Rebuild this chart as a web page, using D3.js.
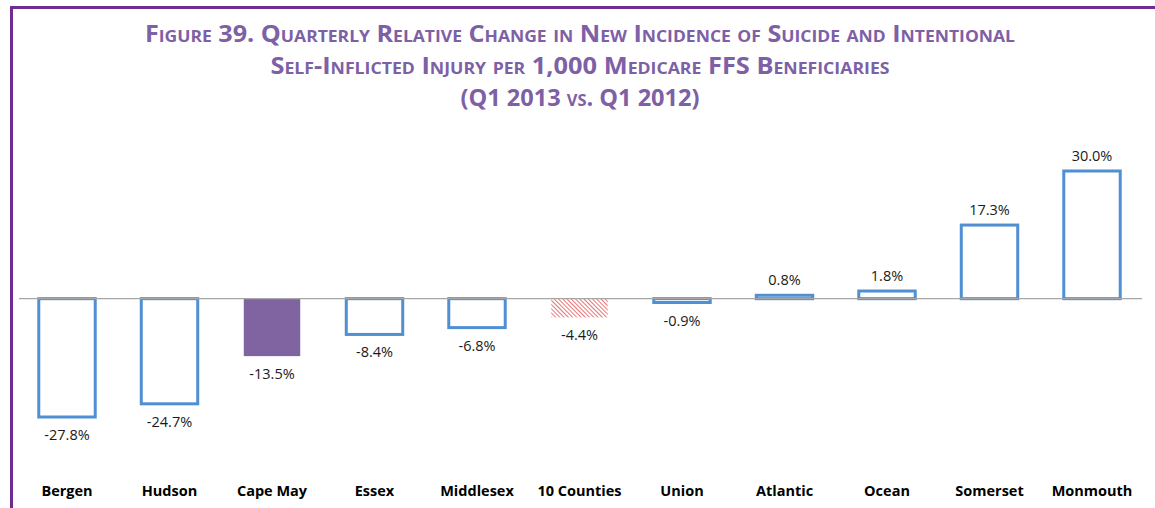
<!DOCTYPE html>
<html>
<head>
<meta charset="utf-8">
<script src="https://cdn.jsdelivr.net/npm/d3@7"></script>
<style>
  body { margin: 0; background: #fff; }
  .title { font-family: "Open Sans", sans-serif; font-weight: 700; font-variant: small-caps; fill: #7d60a5; }
  .value { font-family: "Open Sans", sans-serif; font-size: 14.5px; fill: #1a1a1a; }
  .cat { font-family: "Open Sans", sans-serif; font-weight: 700; font-size: 14.5px; fill: #000; }
</style>
</head>
<body>
<script>
var counties = ["Bergen", "Hudson", "Cape May", "Essex", "Middlesex", "10 Counties", "Union", "Atlantic", "Ocean", "Somerset", "Monmouth"];
var changes = [-27.8, -24.7, -13.5, -8.4, -6.8, -4.4, -0.9, 0.8, 1.8, 17.3, 30.0];
var titleLines = [
  "Figure 39. Quarterly Relative Change in New Incidence of Suicide and Intentional",
  "Self-Inflicted Injury per 1,000 Medicare FFS Beneficiaries",
  "(Q1 2013 vs. Q1 2012)"
];

var chartWidth = 1155;
var chartHeight = 508;

var svg = d3.select("body")
            .append("svg")
            .attr("width", chartWidth)
            .attr("height", chartHeight);

// hatch for the 10 Counties bar
var defs = svg.append("defs");
var hatch = defs.append("pattern")
                .attr("id", "hatch")
                .attr("patternUnits", "userSpaceOnUse")
                .attr("width", 3)
                .attr("height", 3)
                .attr("patternTransform", "rotate(-45)");
hatch.append("rect").attr("width", 3).attr("height", 3).attr("fill", "#fff");
hatch.append("line")
     .attr("x1", 0).attr("y1", 0).attr("x2", 0).attr("y2", 3)
     .attr("stroke", "#e03a3a")
     .attr("stroke-width", 1.4);

// purple frame
svg.append("path")
   .attr("d", "M11.5," + chartHeight + "V7.5H" + chartWidth)
   .attr("fill", "none")
   .attr("stroke", "#6f2c91")
   .attr("stroke-width", 3);

var titleWidths = [870, 619, 239];
svg.selectAll("text.title")
   .data(titleLines)
   .enter()
   .append("text")
   .attr("class", "title")
   .attr("x", 580)
   .attr("y", function(d, i) { return 42 + i * 32; })
   .attr("text-anchor", "middle")
   .style("font-size", "23px")
   .attr("textLength", function(d, i) { return titleWidths[i]; })
   .attr("lengthAdjust", "spacingAndGlyphs")
   .text(function(d) { return d; });

var xScale = d3.scaleBand()
               .domain(counties)
               .range([15.75, 1143.25])
               .paddingInner(0.42)
               .paddingOuter(0.21);

var yScale = d3.scaleLinear()
               .domain([-27.8, 30])
               .range([417, 171]);

var fills = counties.map(function(c) {
  if (c === "Cape May") return "#8064a2";
  if (c === "10 Counties") return "url(#hatch)";
  return "#fff";
});

svg.selectAll("rect.bar")
   .data(changes)
   .enter()
   .append("rect")
   .attr("class", "bar")
   .attr("x", function(d, i) { return xScale(counties[i]) + 1.5; })
   .attr("width", xScale.bandwidth() - 3)
   .attr("y", function(d) { return yScale(Math.max(0, d)); })
   .attr("height", function(d) { return Math.abs(yScale(d) - yScale(0)); })
   .attr("fill", function(d, i) { return fills[i]; })
   .attr("stroke", function(d, i) { return (i === 2 || i === 5) ? "none" : "#4f8fd2"; })
   .attr("stroke-width", 3);

svg.append("line")
   .attr("x1", 19)
   .attr("x2", 1142)
   .attr("y1", yScale(0))
   .attr("y2", yScale(0))
   .attr("stroke", "#a6a6a6")
   .attr("stroke-width", 1.3);

svg.selectAll("text.value")
   .data(changes)
   .enter()
   .append("text")
   .attr("class", "value")
   .attr("text-anchor", "middle")
   .attr("x", function(d, i) { return xScale(counties[i]) + xScale.bandwidth() / 2; })
   .attr("y", function(d) { return d < 0 ? yScale(d) + 23 : yScale(d) - 10; })
   .text(function(d) { return d.toFixed(1) + "%"; });

var xAxis = svg.append("g")
               .attr("transform", "translate(0,486)")
               .call(d3.axisBottom(xScale).tickSize(0).tickPadding(0));
xAxis.select(".domain").remove();
xAxis.selectAll("text")
     .attr("class", "cat")
     .attr("dy", "0.71em")
     .style("font", null);
</script>
</body>
</html>
